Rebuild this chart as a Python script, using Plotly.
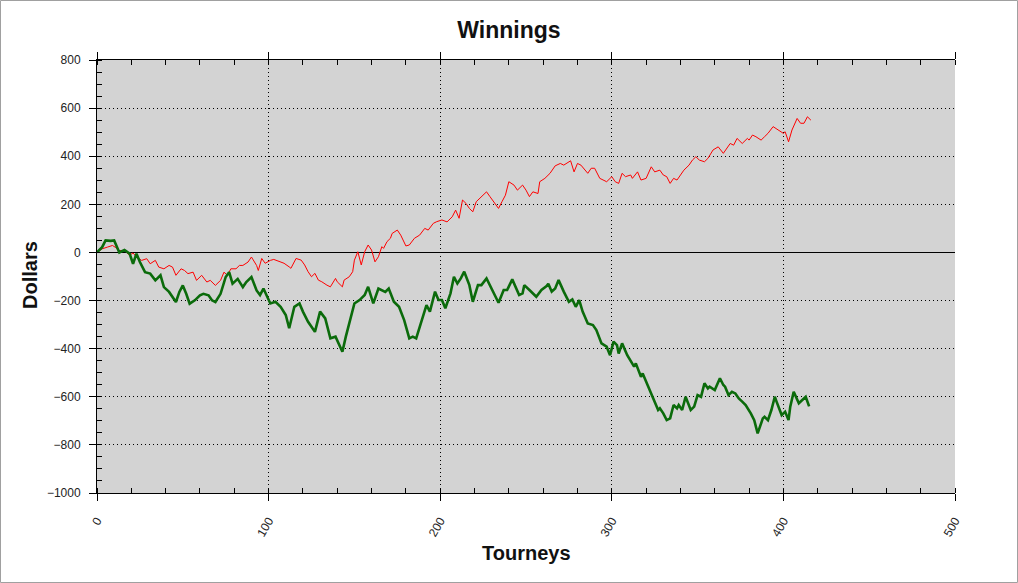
import plotly.graph_objects as go

# red series (tourney number, dollars)
red_tourneys = [0, 3, 6, 9, 11, 13, 16, 19, 21, 23, 26, 29, 31, 34, 36, 39, 42, 44, 46, 49,
                51, 53, 56, 58, 61, 64, 66, 69, 72, 74, 76, 78, 81, 83, 85, 88, 90, 93, 94, 96,
                98, 101, 103, 106, 109, 112, 113, 116, 119, 121, 123, 125, 127, 129, 131, 134, 136, 139, 140, 143,
                144, 147, 149, 150, 152, 154, 156, 158, 160, 162, 164, 166, 167, 169, 171, 172, 175, 177, 180, 182,
                185, 188, 191, 193, 196, 198, 201, 204, 207, 209, 211, 213, 215, 217, 219, 221, 224, 227, 229, 232,
                234, 236, 238, 240, 243, 245, 248, 250, 252, 254, 257, 258, 261, 264, 267, 270, 272, 276, 278, 280,
                282, 286, 288, 290, 293, 297, 300, 302, 304, 306, 308, 311, 312, 315, 317, 320, 323, 325, 328, 330,
                332, 334, 336, 338, 340, 342, 345, 347, 349, 351, 354, 356, 359, 362, 365, 367, 369, 371, 373, 376,
                379, 380, 382, 384, 387, 389, 391, 394, 397, 400, 401, 403, 405, 408, 410, 412, 414, 416]
red_dollars = [0, 15, 22, 29, 20, 8, 8, -12, -2, -19, -33, -26, -47, -33, -61, -68, -54, -61, -95, -68,
               -75, -88, -82, -116, -95, -123, -116, -137, -116, -82, -95, -68, -68, -54, -54, -40, -19, -54, -75, -25,
               -45, -33, -29, -38, -45, -60, -66, -25, -32, -52, -80, -101, -87, -115, -122, -136, -143, -108, -122, -143,
               -115, -101, -80, -32, 3, -52, 3, 31, 10, -39, -18, 24, 17, 45, 59, 79, 93, 72, 27, 31,
               59, 72, 100, 93, 121, 128, 135, 127, 148, 176, 142, 218, 204, 183, 169, 211, 232, 252, 232, 204,
               183, 211, 238, 294, 280, 259, 280, 259, 232, 252, 245, 294, 308, 329, 360, 370, 363, 381, 335, 370,
               363, 329, 350, 350, 308, 294, 315, 294, 287, 329, 315, 322, 308, 335, 301, 308, 356, 335, 342, 322,
               315, 287, 308, 301, 322, 342, 363, 384, 398, 384, 377, 391, 426, 439, 412, 433, 453, 446, 474, 453,
               474, 467, 488, 481, 467, 481, 495, 523, 509, 495, 502, 460, 509, 557, 537, 537, 564, 550]

# green series (tourney number, dollars)
green_tourneys = [0, 3, 5, 8, 10, 13, 16, 19, 21, 23, 25, 28, 31, 34, 37, 39, 42, 46, 48, 50,
                  52, 54, 57, 60, 62, 65, 67, 69, 72, 75, 77, 79, 82, 85, 87, 90, 93, 95, 97, 101,
                  104, 107, 110, 112, 115, 118, 120, 123, 127, 130, 133, 136, 139, 143, 145, 148, 150, 153, 156, 158,
                  161, 164, 168, 170, 173, 176, 179, 182, 184, 186, 189, 192, 194, 197, 199, 201, 203, 206, 208, 210,
                  212, 214, 217, 219, 222, 224, 227, 230, 234, 237, 239, 242, 246, 248, 249, 252, 256, 259, 262, 263,
                  265, 267, 269, 272, 275, 277, 279, 281, 283, 286, 289, 291, 294, 297, 299, 301, 303, 304, 306, 309,
                  312, 313, 314, 317, 318, 320, 322, 325, 327, 328, 330, 332, 334, 336, 338, 339, 341, 343, 344, 346,
                  348, 350, 352, 354, 356, 357, 360, 363, 365, 366, 368, 370, 372, 374, 376, 378, 381, 383, 385, 388,
                  389, 391, 393, 395, 396, 399, 401, 403, 404, 406, 409, 411, 413, 415]
green_dollars = [0, 22, 50, 48, 50, 0, 10, -5, -47, -5, -40, -82, -88, -116, -95, -144, -164, -206, -164, -137,
                 -172, -213, -199, -178, -172, -178, -199, -206, -172, -102, -82, -130, -110, -144, -123, -102, -158, -177, -150, -212,
                 -205, -226, -260, -315, -226, -212, -246, -288, -330, -246, -274, -357, -350, -413, -350, -267, -212, -198, -177, -143,
                 -212, -150, -164, -150, -205, -226, -281, -357, -350, -357, -288, -219, -246, -163, -198, -198, -232, -170, -101, -129,
                 -108, -80, -136, -205, -136, -136, -108, -150, -209, -156, -156, -112, -177, -170, -136, -156, -184, -156, -140, -130,
                 -163, -150, -115, -163, -205, -195, -226, -198, -246, -295, -302, -323, -378, -392, -427, -371, -385, -420, -378, -427,
                 -461, -475, -461, -517, -503, -537, -572, -620, -655, -648, -669, -697, -690, -634, -648, -634, -655, -600, -620, -655,
                 -641, -593, -600, -544, -565, -558, -572, -523, -551, -558, -593, -579, -586, -607, -620, -634, -669, -697, -752, -690,
                 -683, -697, -655, -600, -620, -676, -662, -697, -641, -579, -627, -613, -600, -640]

x_ticks = [0, 100, 200, 300, 400, 500]
y_ticks = [-1000, -800, -600, -400, -200, 0, 200, 400, 600, 800]

font = "Arial, Liberation Sans, sans-serif"
tickfont = dict(family=font, size=12, color="#222")

fig = go.Figure()
fig.add_trace(go.Scatter(x=red_tourneys, y=red_dollars, mode="lines",
                         line=dict(color="#ff0000", width=1), showlegend=False))
fig.add_trace(go.Scatter(x=green_tourneys, y=green_dollars, mode="lines",
                         line=dict(color="#0b6b0b", width=2.6), showlegend=False))

fig.update_layout(
    width=1018, height=583,
    margin=dict(l=97, r=63, t=60, b=90),
    paper_bgcolor="white", plot_bgcolor="#d3d3d3",
    title=dict(text="<b>Winnings</b>", font=dict(family=font, size=23, color="#111"),
               x=0.5, xref="container", y=1 - 30 / 583, yref="container", yanchor="middle"),
    xaxis=dict(range=[0, 500], tickvals=x_ticks, tickangle=-60, tickfont=tickfont,
               ticks="outside", ticklen=7, tickcolor="black", ticklabelstandoff=8,
               showline=True, linecolor="black", linewidth=1, mirror="ticks",
               showgrid=True, gridcolor="black", griddash="1px,3px", gridwidth=1, zeroline=False,
               minor=dict(dtick=20, ticks="inside", ticklen=5, tickcolor="black", showgrid=False)),
    yaxis=dict(range=[-1000, 800], tickvals=y_ticks, tickfont=tickfont,
               ticks="outside", ticklen=7, tickcolor="black", ticklabelstandoff=6,
               showline=True, linecolor="black", linewidth=1,
               showgrid=True, gridcolor="black", griddash="1px,3px", gridwidth=1,
               zeroline=True, zerolinecolor="black", zerolinewidth=1,
               minor=dict(dtick=50, ticks="inside", ticklen=5, tickcolor="black", showgrid=False)),
    yaxis2=dict(range=[-1000, 800], tickvals=y_ticks, tickfont=tickfont, overlaying="y", side="right",
                ticks="outside", ticklen=7, tickcolor="black", ticklabelstandoff=6,
                showline=True, linecolor="black", linewidth=1, showgrid=False, zeroline=False,
                minor=dict(dtick=50, ticks="inside", ticklen=5, tickcolor="black", showgrid=False)),
    annotations=[
        dict(text="<b>Dollars</b>", xref="paper", yref="paper", x=(30 - 97) / 858, y=(493 - 275) / 433,
             xanchor="center", yanchor="middle",
             textangle=-90, showarrow=False, font=dict(family=font, size=20, color="#111")),
        dict(text="<b>Tourneys</b>", xref="paper", yref="paper", x=0.5, y=(493 - 553) / 433,
             xanchor="center", yanchor="middle",
             showarrow=False, font=dict(family=font, size=20, color="#111")),
    ],
    shapes=[dict(type="rect", xref="paper", yref="paper",
                 x0=-96.5 / 858, x1=1 + 62.5 / 858, y0=-89.5 / 433, y1=1 + 59.5 / 433,
                 line=dict(color="#a0a0a0", width=1))],
)

# page margin off so the figure sits at the window's corner
fig.write_html("out.html", config={"displayModeBar": False},
               post_script="document.body.style.margin='0px';")
